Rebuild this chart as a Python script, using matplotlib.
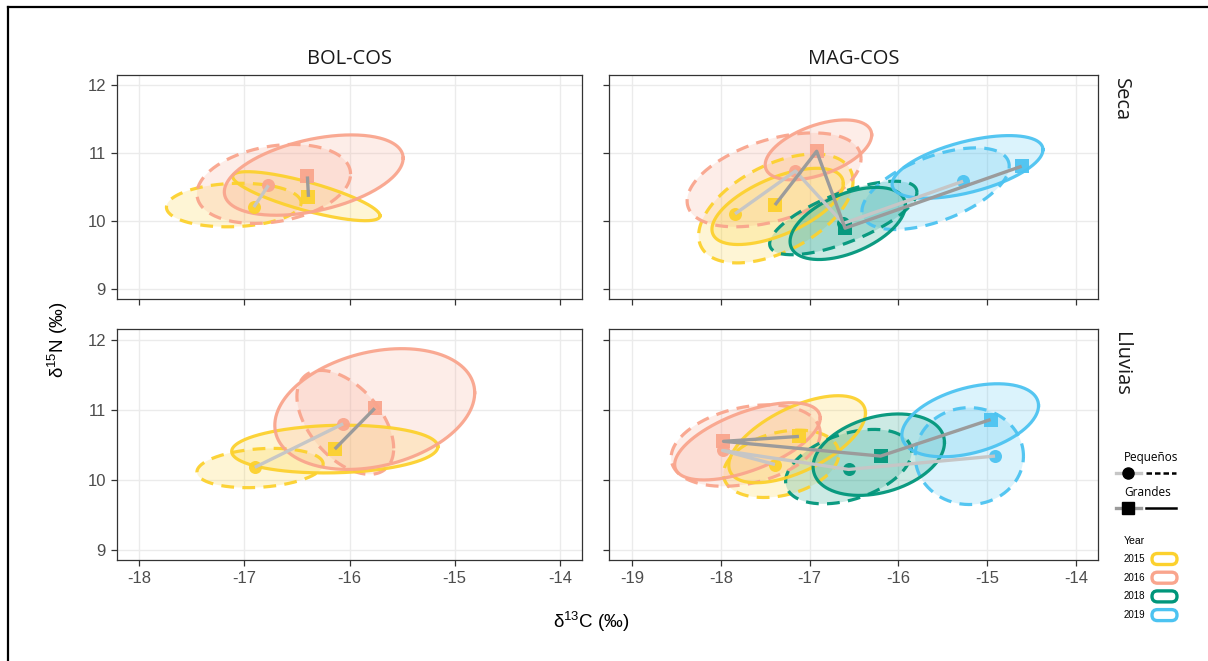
import numpy as np
import matplotlib
matplotlib.use("Agg")
import matplotlib.pyplot as plt
from matplotlib.patches import FancyBboxPatch

plt.rcParams["axes.unicode_minus"] = False
plt.rcParams["mathtext.default"] = "regular"

years = ["2015", "2016", "2018", "2019"]
year_colors = ["#FCD12E", "#F9A58D", "#00967B", "#4CC3F1"]
sites = ["BOL-COS", "MAG-COS"]
seasons = ["Seca", "Lluvias"]
sizes = ["Pequeños", "Grandes"]
size_line_gray = ["#C6C6C6", "#9B9B9B"]

# one entry per group (season x site x size x year)
grp_season = ["Seca"] * 12 + ["Lluvias"] * 12
grp_site = (["BOL-COS"] * 4 + ["MAG-COS"] * 8) * 2
grp_size = (["Pequeños", "Pequeños", "Grandes", "Grandes"]
            + ["Pequeños"] * 4 + ["Grandes"] * 4) * 2
grp_year = (["2015", "2016", "2015", "2016"] + years + years) * 2

# group means (d13C, d15N)
mean_c = [-16.91, -16.77, -16.39, -16.40,
          -17.84, -17.16, -16.62, -15.27, -17.39, -16.92, -16.60, -14.61,
          -16.90, -16.06, -16.14, -15.76,
          -17.39, -17.98, -16.56, -14.91, -17.12, -17.97, -16.20, -14.96]
mean_n = [10.21, 10.53, 10.36, 10.66,
          10.11, 10.74, 9.97, 10.59, 10.24, 11.03, 9.90, 10.81,
          10.18, 10.80, 10.44, 11.02,
          10.22, 10.42, 10.15, 10.34, 10.62, 10.55, 10.34, 10.86]

# standard ellipses: centre, SDs and correlation
ell_c = [-17.10, -16.72, -16.41, -16.34,
         -17.38, -17.40, -16.62, -15.58, -17.36, -16.90, -16.57, -15.22,
         -16.85, -16.04, -16.14, -15.76,
         -17.32, -17.72, -16.56, -15.20, -17.14, -17.70, -16.22, -15.19]
ell_n = [10.24, 10.55, 10.37, 10.68,
         10.19, 10.61, 10.05, 10.48, 10.22, 11.05, 9.97, 10.80,
         10.17, 10.82, 10.44, 11.01,
         10.23, 10.49, 10.19, 10.34, 10.58, 10.55, 10.36, 10.85]
sd_c = [0.64, 0.73, 0.70, 0.85,
        0.87, 0.98, 0.83, 0.83, 0.74, 0.60, 0.65, 0.85,
        0.60, 0.46, 0.98, 0.95,
        0.65, 0.84, 0.71, 0.61, 0.77, 0.82, 0.74, 0.77]
sd_n = [0.32, 0.58, 0.36, 0.59,
        0.80, 0.69, 0.54, 0.60, 0.56, 0.44, 0.53, 0.46,
        0.28, 0.74, 0.34, 0.86,
        0.48, 0.58, 0.53, 0.69, 0.62, 0.55, 0.58, 0.52]
rho = [0.10, 0.25, -0.80, 0.42,
       0.50, 0.45, 0.70, 0.55, 0.60, 0.50, 0.50, 0.55,
       0.20, -0.50, 0.10, 0.27,
       0.30, 0.30, 0.40, 0.00, 0.60, 0.60, 0.30, 0.40]

W, H = 1208, 661
panel_px = {("Seca", "BOL-COS"): (117, 75, 582, 299),
            ("Seca", "MAG-COS"): (609, 75, 1098, 299),
            ("Lluvias", "BOL-COS"): (117, 329, 582, 560),
            ("Lluvias", "MAG-COS"): (609, 329, 1098, 560)}
xlims = {"BOL-COS": (-18.21, -13.79), "MAG-COS": (-19.26, -13.75)}
xticks = {"BOL-COS": [-18, -17, -16, -15, -14],
          "MAG-COS": [-19, -18, -17, -16, -15, -14]}

t = np.linspace(0, 2 * np.pi, 240)


def ellipse_xy(cx, cy, sx, sy, r):
    cov = np.array([[sx * sx, r * sx * sy], [r * sx * sy, sy * sy]])
    L = np.linalg.cholesky(cov)
    pts = L @ np.vstack([np.cos(t), np.sin(t)])
    return cx + pts[0], cy + pts[1]


fig = plt.figure(figsize=(W / 100, H / 100), dpi=100)
tick_font = "Liberation Sans"
strip_font = "Open Sans"

for (season, site), (l, tp, r, b) in panel_px.items():
    ax = fig.add_axes([l / W, 1 - b / H, (r - l) / W, (b - tp) / H])
    ax.set_xlim(*xlims[site])
    ax.set_ylim(8.86, 12.15)
    ax.set_xticks(xticks[site])
    ax.set_yticks([9, 10, 11, 12])
    ax.grid(color="#EBEBEB", lw=1.0)
    ax.set_axisbelow(True)
    for s in ax.spines.values():
        s.set_color("#333333")
        s.set_linewidth(0.9)
    ax.tick_params(color="#333333", length=4.5, width=0.9,
                   labelcolor="#4D4D4D", labelsize=12)
    for lab in ax.get_xticklabels() + ax.get_yticklabels():
        lab.set_family(tick_font)
    if season == "Seca":
        ax.tick_params(labelbottom=False)
    if site == "MAG-COS":
        ax.tick_params(labelleft=False)

    idx = [i for i in range(len(grp_year))
           if grp_season[i] == season and grp_site[i] == site]
    # ellipses
    for i in idx:
        col = year_colors[years.index(grp_year[i])]
        ex, ey = ellipse_xy(ell_c[i], ell_n[i], sd_c[i], sd_n[i], rho[i])
        ax.fill(ex, ey, color=col, alpha=0.2, lw=0, zorder=2)
        ls = (0, (4, 2.6)) if grp_size[i] == "Pequeños" else "-"
        ax.plot(ex, ey, color=col, lw=2.3, ls=ls, alpha=0.95, zorder=3)
    # group means
    for i in idx:
        col = year_colors[years.index(grp_year[i])]
        mk = "o" if grp_size[i] == "Pequeños" else "s"
        ax.scatter(mean_c[i], mean_n[i], marker=mk, s=88, color=col,
                   lw=0, alpha=0.95, zorder=4)
    # trajectories across years
    for k, size in enumerate(sizes):
        sel = [i for i in idx if grp_size[i] == size]
        sel.sort(key=lambda i: years.index(grp_year[i]))
        ax.plot([mean_c[i] for i in sel], [mean_n[i] for i in sel],
                color=size_line_gray[k], lw=2.4, zorder=5,
                solid_capstyle="butt")

    if season == "Seca":
        fig.text((l + r) / 2 / W, 1 - 59 / H, site, ha="center", va="center",
                 family=strip_font, fontsize=14.5, color="#1A1A1A")
    if site == "MAG-COS":
        fig.text(1121 / W, 1 - (tp + 3) / H, season, rotation=-90,
                 ha="center", va="top", family=strip_font, fontsize=14.5,
                 color="#1A1A1A")

fig.text(591 / W, 1 - 622 / H, "δ$^{13}$C (‰)", ha="center",
         va="center", family=tick_font, fontsize=13.5, color="black")
fig.text(58 / W, 1 - 340 / H, "δ$^{15}$N (‰)", ha="center",
         va="center", rotation=90, family=tick_font, fontsize=13.5,
         color="black")

# legend and outer frame drawn in pixel coordinates
lg = fig.add_axes([0, 0, 1, 1], zorder=10)
lg.set_xlim(0, W)
lg.set_ylim(H, 0)
lg.axis("off")
lg.plot([8, 8], [7, H], color="black", lw=1.6)
lg.plot([8, W], [7, 7], color="black", lw=1.6)

for k, (name, ypos, mk, ls) in enumerate([("Pequeños", 458, "o", (0, (2.2, 1.2))),
                                          ("Grandes", 493, "s", "-")]):
    lg.text(1124, ypos, name, ha="left", va="center", family=strip_font,
            fontsize=8.5, color="black")
    gy = ypos + 15
    lg.plot([1116, 1141], [gy, gy], color=size_line_gray[k], lw=2.4)
    lg.plot([1127.5], [gy], marker=mk, ms=8, color="black", lw=0)
    lg.plot([1146, 1176], [gy, gy], color="black", lw=1.8, ls=ls)

lg.text(1124, 541, "Year", ha="left", va="center", family=tick_font,
        fontsize=7.5, color="black")
for k, yr in enumerate(years):
    yy = 559 + k * 18.7
    lg.text(1124, yy, yr, ha="left", va="center", family=tick_font,
            fontsize=7, color="black")
    lg.add_patch(FancyBboxPatch((1152, yy - 5.5), 25, 11,
                                boxstyle="round,pad=0,rounding_size=5.5",
                                fc="white", ec=year_colors[k], lw=2.4))

fig.savefig("out.png", dpi=100)
plt.close("all")
